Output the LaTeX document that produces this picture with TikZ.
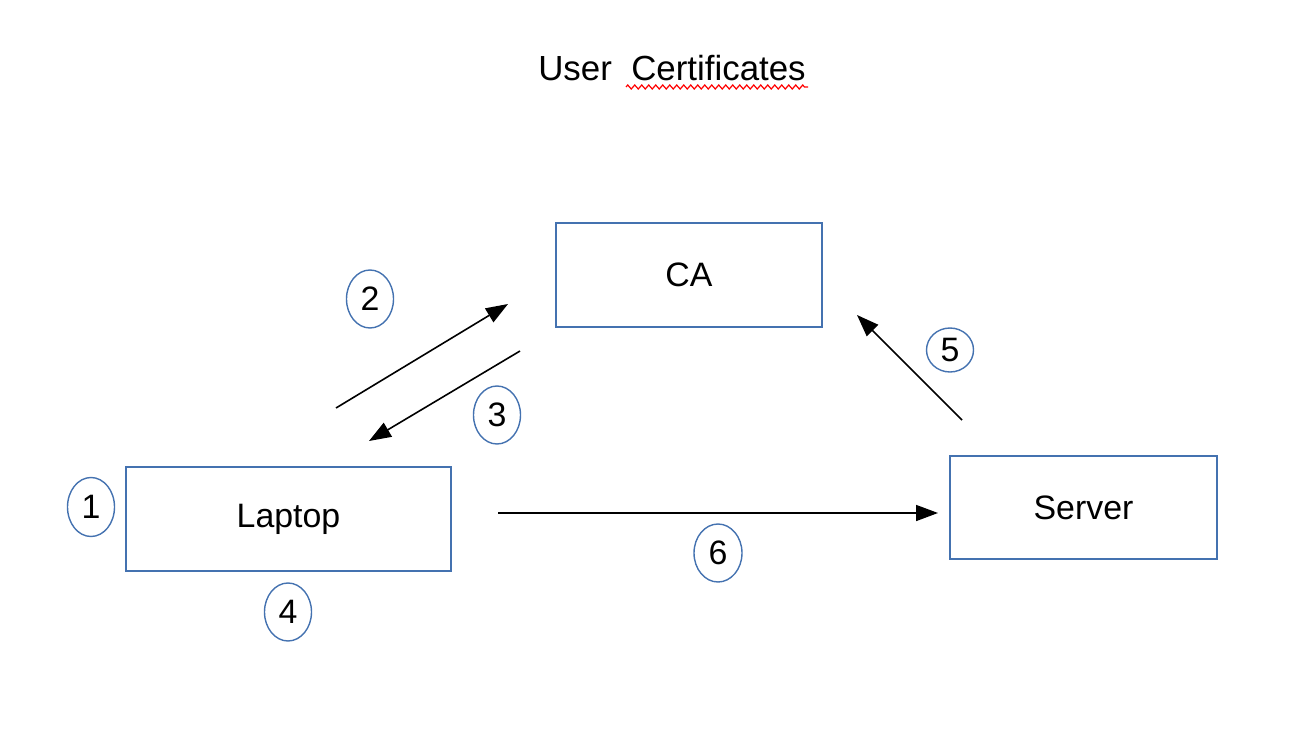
\documentclass[tikz,border=0pt]{standalone}
\usepackage{fontspec}
\setmainfont{Liberation Sans}
\usetikzlibrary{arrows.meta,decorations.pathmorphing,shapes.geometric}
\begin{document}
\begin{tikzpicture}[x=1bp,y=-1bp,
  box/.style={draw=boxblue,line width=1.4bp,minimum width=#1,inner sep=0pt},
  num/.style={draw=boxblue,line width=1.4bp,ellipse,inner sep=0pt,font=\fontsize{34}{38}\selectfont},
  lbl/.style={font=\fontsize{34}{38}\selectfont},
  arr/.style={line width=1.6bp,-{Triangle[length=22bp,width=16bp]}}]
\definecolor{boxblue}{RGB}{68,114,176}
\useasboundingbox (0,0) rectangle (1304,738);
\node[lbl,font=\fontsize{35}{40}\selectfont] (title) at (672,68) {User\ \ Certificates};
\draw[red,line width=1.2bp,decorate,decoration={zigzag,segment length=7bp,amplitude=2bp}] (626,87) -- (808,87);
\node[box=266bp,minimum height=104bp,lbl] (ca) at (689,275) {CA};
\node[box=325bp,minimum height=104bp,lbl] (laptop) at (288.5,519) {Laptop};
\node[box=267bp,minimum height=103bp,lbl] (server) at (1083.5,507.5) {Server};
\node[num,minimum width=47bp,minimum height=59bp] (n1) at (91,507) {1};
\node[num,minimum width=47bp,minimum height=58bp] (n2) at (370,299) {2};
\node[num,minimum width=47bp,minimum height=58bp] (n3) at (497,415) {3};
\node[num,minimum width=47bp,minimum height=58bp] (n4) at (288,612) {4};
\node[num,minimum width=47bp,minimum height=44bp] (n5) at (950,350) {5};
\node[num,minimum width=48bp,minimum height=58bp] (n6) at (718,553) {6};
\coordinate (a2s) at (336,408);
\coordinate (a2e) at (508,304);
\coordinate (a3s) at (520,351);
\coordinate (a3e) at (369,441);
\coordinate (a5s) at (962,420);
\coordinate (a5e) at (857,315);
\coordinate (a6s) at (498,513);
\coordinate (a6e) at (938,513);
\draw[arr] (a2s) -- (a2e);
\draw[arr] (a3s) -- (a3e);
\draw[arr] (a5s) -- (a5e);
\draw[arr] (a6s) -- (a6e);
\end{tikzpicture}
\end{document}
